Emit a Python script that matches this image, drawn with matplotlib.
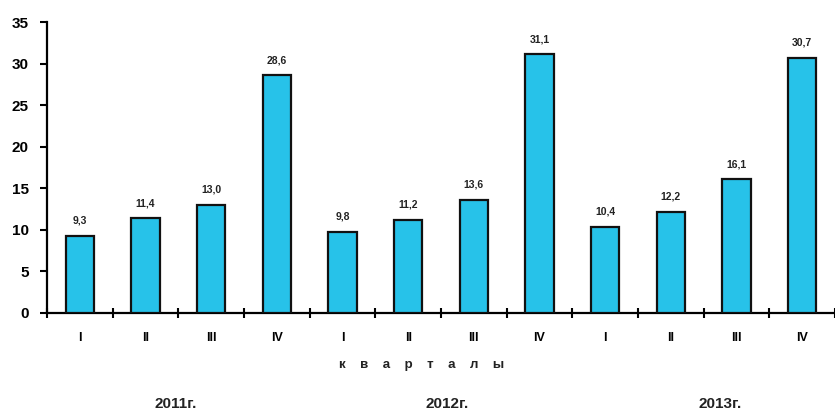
import matplotlib.pyplot as plt
import numpy as np

plt.rcParams['font.family'] = ['Liberation Sans Narrow', 'Liberation Sans', 'DejaVu Sans']

quarters = ['I', 'II', 'III', 'IV'] * 3
values = [9.3, 11.4, 13.0, 28.6, 9.8, 11.2, 13.6, 31.1, 10.4, 12.2, 16.1, 30.7]
years = ['2011г.', '2012г.', '2013г.']

BAR = '#27c2e9'

fig = plt.figure(figsize=(8.35, 4.16), dpi=100)
ax = fig.add_axes([0.0563, 0.2476, 0.9437, 0.6994])

x = np.arange(len(values))
ax.bar(x, values, width=0.43, color=BAR, edgecolor='#111', linewidth=1.6, zorder=3)

for xi, v in zip(x, values):
    ax.text(xi, v + 1.2, f'{v:.1f}'.replace('.', ','), ha='center', va='bottom',
            fontsize=7.5, fontweight='bold', color='#222')

ax.set_xlim(-0.5, len(values) - 0.5)
ax.set_ylim(0, 35)
ax.set_yticks(range(0, 36, 5))
ax.tick_params(axis='y', direction='out', length=5, width=1.5, labelsize=11, pad=8)
for lbl in ax.get_yticklabels():
    lbl.set_fontweight('bold')

# boundary ticks crossing the axis, labels centred under bars
ax.set_xticks(np.arange(-0.5, len(values), 1.0))
ax.set_xticklabels([])
ax.tick_params(axis='x', which='major', direction='inout', length=7, width=1.5)
ax.set_xticks(x, minor=True)
ax.set_xticklabels(quarters, minor=True)
ax.tick_params(axis='x', which='minor', length=0, labelsize=9, pad=14)
for lbl in ax.get_xticklabels(minor=True):
    lbl.set_fontweight('bold')

for side in ('top', 'right'):
    ax.spines[side].set_visible(False)
ax.spines['left'].set_linewidth(1.6)
ax.spines['bottom'].set_linewidth(1.6)

fig.text(0.505, 0.122, 'к    в    а    р    т    а    л    ы', ha='center', va='center',
         fontsize=9.5, fontweight='bold', color='#222')
for xpos, yr in zip([0.21, 0.535, 0.862], years):
    fig.text(xpos, 0.028, yr, ha='center', va='center', fontsize=11,
             fontweight='bold', color='#222')

fig.savefig('out.png', dpi=100, facecolor='white')
